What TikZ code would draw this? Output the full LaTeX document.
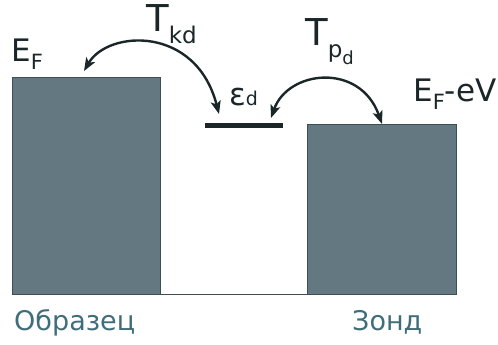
\documentclass[tikz,border=0pt]{standalone}
\usepackage{fontspec}
\setmainfont{DejaVu Sans}
\usetikzlibrary{arrows.meta}
\definecolor{boxfill}{HTML}{637880}
\definecolor{boxline}{HTML}{3E4E52}
\definecolor{ink}{HTML}{1A2628}
\definecolor{capteal}{HTML}{3F6E7A}
\begin{document}
\begin{tikzpicture}[x=1pt,y=-1pt,
  band/.style={fill=boxfill,draw=boxline,line width=0.8pt},
  lbl/.style={text=ink,inner sep=0pt,font=\fontsize{31}{31}\selectfont},
  captext/.style={text=capteal,inner sep=0pt,font=\fontsize{27}{27}\selectfont},
  hop/.style={draw=ink,line width=2.4pt,{Stealth[length=13pt,width=10pt,inset=3pt]}-{Stealth[length=13pt,width=10pt,inset=3pt]}}]
\useasboundingbox (0,0) rectangle (498,345);
\draw[band] (12,77) rectangle (160,294);
\draw[band] (307,124) rectangle (456,294);
\coordinate (sbr) at (160,294);
\coordinate (pbl) at (307,294);
\draw[boxline,line width=0.8pt] (sbr) -- (pbl);
\coordinate (lvA) at (205,125.5);
\coordinate (lvB) at (283,125.5);
\draw[ink,line width=4.5pt] (lvA) -- (lvB);
% labels
\node[lbl,anchor=base west] (ef) at (11,62) {E\raisebox{-0.25em}{\fontsize{21}{21}\selectfont F}};
\node[lbl,anchor=base west] (tkd) at (146,32) {\fontsize{37}{37}\selectfont T\raisebox{-0.3em}{\fontsize{23}{23}\selectfont kd}};
\node[lbl,anchor=base west] (eps) at (229,105) {ε\fontsize{19}{19}\selectfont d};
\node[lbl,anchor=base west] (tpd) at (305,46) {\fontsize{37}{37}\selectfont T\raisebox{-0.3em}{\fontsize{23}{23}\selectfont p\raisebox{-0.3em}{\fontsize{18}{18}\selectfont d}}};
\node[lbl,anchor=base west] (efv) at (413,102) {E\raisebox{-0.25em}{\fontsize{21}{21}\selectfont F}-eV};
\node[captext,anchor=base west] (obr) at (14,330) {Образец};
\node[captext,anchor=base west] (zond) at (352,330) {Зонд};
% hopping arrows
\coordinate (a1) at (84,71);
\coordinate (a2) at (219,114);
\coordinate (b1) at (271,118);
\coordinate (b2) at (382,124);
\draw[hop] (a1) .. controls (108,30) and (196,25) .. (a2);
\draw[hop] (b1) .. controls (288,70) and (360,62) .. (b2);
\end{tikzpicture}
\end{document}
